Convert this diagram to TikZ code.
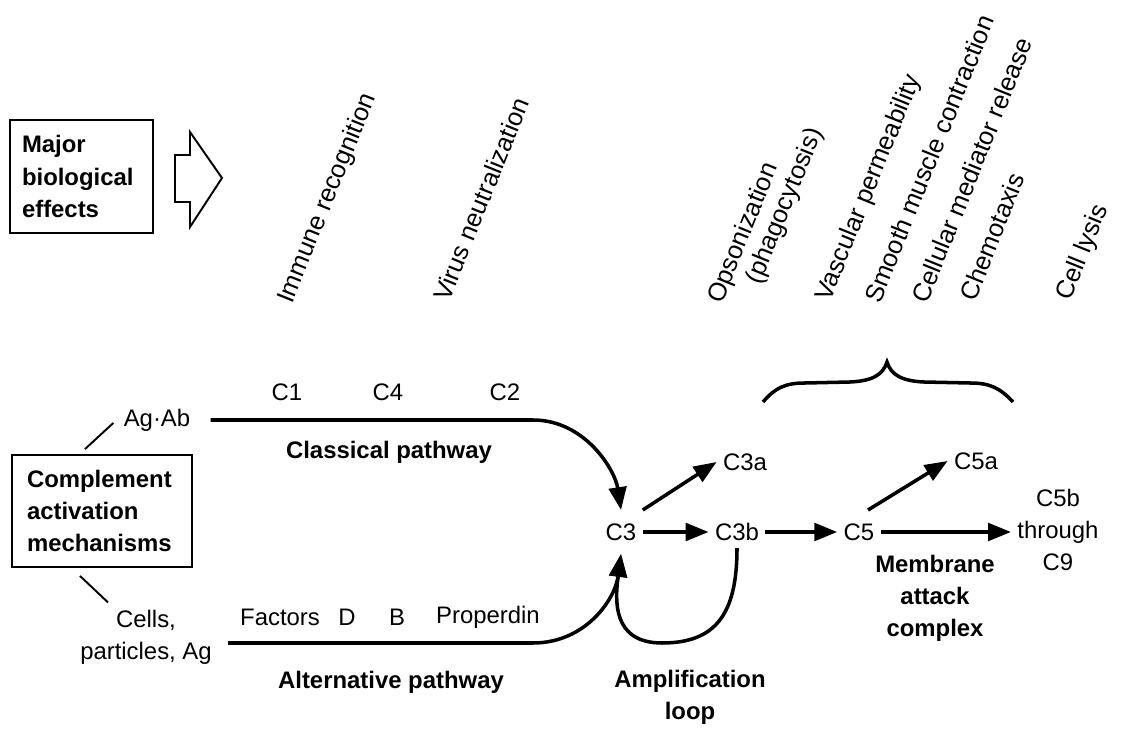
\documentclass[tikz,border=0pt]{standalone}
\usepackage{fontspec}
\setmainfont{Liberation Sans}
\usetikzlibrary{arrows.meta}

\begin{document}
\begin{tikzpicture}[
  x=0.02cm, y=-0.02cm,
  txt/.style={font=\fontsize{13.6}{18.3}\selectfont, inner sep=0pt, align=center},
  bold/.style={txt, font=\fontsize{13.6}{18.3}\selectfont\bfseries},
  comp/.style={txt, inner xsep=3.5pt, inner ysep=4pt},
  effect/.style={
    font=\fontsize{14.5}{16}\selectfont, inner sep=0pt,
    rotate=68, anchor=base west
  },
  framed/.style={
    draw, line width=1.1pt, align=left,
    font=\fontsize{13.6}{18.3}\selectfont\bfseries
  },
  flow/.style={-{Triangle[length=13pt,width=10pt]}, line width=2pt},
  link/.style={line width=1.1pt}
]
\useasboundingbox (0,0) rectangle (1126,729);

% Effects header with its hollow arrow.
\node[framed, text width=2.38cm, inner xsep=0.24cm, minimum height=2.26cm]
  (effects) at (81.5,176.5) {Major\\biological\\effects};
\draw[link] (175,155) -- (190,155) -- (190,132) -- (222,178)
  -- (190,227) -- (190,202) -- (175,202) -- cycle;

% Slanted list of effects.
\node[effect] (immune)   at (292,305)  {Immune recognition};
\node[effect] (virus)    at (449,303)  {Virus neutralization};
\node[effect] (opson)    at (722,305)  {Opsonization};
\node[effect] (phago)    at (760,286)  {(phagocytosis)};
\node[effect] (vascular) at (830,303)  {Vascular permeability};
\node[effect] (smooth)   at (880,305)  {Smooth muscle contraction};
\node[effect] (mediator) at (927,305)  {Cellular mediator release};
\node[effect] (chemo)    at (975,303)  {Chemotaxis};
\node[effect] (lysis)    at (1070,302) {Cell lysis};

% Brace over the C3a/C5a/C5b side.
\draw[line width=2pt] (763,402) .. controls (775,388) and (785,383) .. (805,383)
  -- (850,382) .. controls (872,381) and (883,375) .. (887,362)
  .. controls (891,375) and (902,381) .. (924,382)
  -- (970,383) .. controls (990,383) and (1000,388) .. (1013,402);

% Activation box and its two triggers.
\node[framed, text width=3.0cm, inner xsep=0.3cm, minimum height=2.24cm]
  (activation) at (102,511) {Complement\\activation\\mechanisms};
\node[comp] (agab)  at (157,420) {Ag·Ab};
\node[comp] (cells) at (146,637) {Cells,\\particles, Ag};
\draw[link] ([shift={(-17,-5)}]activation.north) -- ([shift={(-4,3)}]agab.west);
\draw[link] ([shift={(-22,8)}]activation.south) -- ([shift={(-38,0)}]cells.north);

% Classical pathway.
\node[txt] (c1) at (287,392) {C1};
\node[txt] (c4) at (388,392) {C4};
\node[txt] (c2) at (505,392) {C2};
\node[bold] (classical) at (389,452) {Classical pathway};

% Alternative pathway.
\node[txt] (factors)   at (280,617) {Factors};
\node[txt] (facd)      at (347,617) {D};
\node[txt] (facb)      at (397,617) {B};
\node[txt] (properdin) at (488,617) {Properdin};
\node[bold] (alternative) at (391,682) {Alternative pathway};

% Cascade components.
\node[comp, inner ysep=7.5pt] (c3) at (621,532) {C3};
\node[comp] (c3a) at (745,462) {C3a};
\node[comp] (c3b) at (737,532) {C3b};
\node[comp, inner ysep=7.5pt] (c5) at (859,532) {C5};
\node[comp] (c5a) at (976,461) {C5a};
\node[comp] (c5b) at (1058,530) {C5b\\through\\C9};
\node[bold] (attack) at (935,598) {Membrane\\attack\\complex};
\node[bold] (amplification) at (690,697) {Amplification\\loop};

% Both pathways converge on C3.
\coordinate (clbend)  at (533,420);
\coordinate (altbend) at (533,643);
\draw[flow, shorten <=0.28cm] (agab.east) -- (clbend)
  .. controls (585,420) and (615,470) .. (c3.north);
\draw[flow] ([shift={(10,6)}]cells.east) -- (altbend)
  .. controls (585,643) and (615,600) .. (c3.south);

% Cleavage steps.
\draw[flow] (c3.north east) -- (c3a.west);
\draw[flow] (c3) -- (c3b);
\draw[flow] (c3b) -- (c5);
\draw[flow] ([shift={(9,0)}]c5.north) -- (c5a.west);
\draw[flow] (c5.east) -- (c5.east -| c5b.west);

% C3b feeds back into C3.
\coordinate (loopbottom) at (662,643);
\draw[flow] (c3b.south) .. controls (737,615) and (715,643) .. (loopbottom)
  .. controls (612,643) and (615,600) .. (c3.south);

\end{tikzpicture}
\end{document}
